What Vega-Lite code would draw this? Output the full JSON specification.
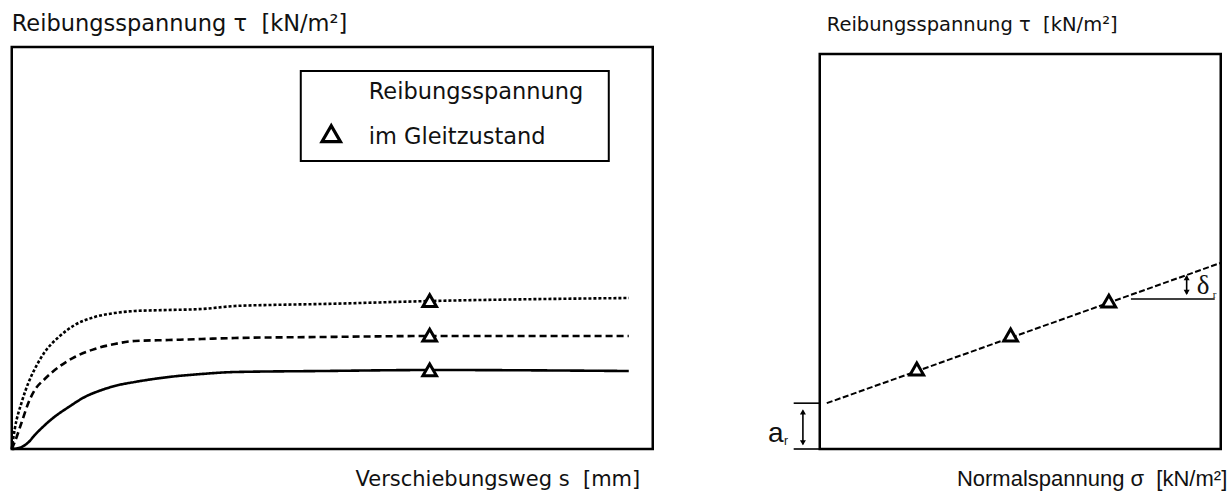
{
  "$schema": "https://vega.github.io/schema/vega-lite/v6.json",
  "background": "white",
  "padding": {"left": 4.75, "top": 11, "right": 0, "bottom": 0},
  "spacing": 167,
  "bounds": "flush",
  "config": {"view": {"stroke": null}, "font": "DejaVu Sans"},
  "datasets": {
    "leftCurves": [
      {"s": "solid", "x": 0, "y": 0}, {"s": "solid", "x": 0.78, "y": 0.12}, {"s": "solid", "x": 1.56, "y": 0.5}, {"s": "solid", "x": 2.65, "y": 1.74}, {"s": "solid", "x": 3.59, "y": 3.48}, {"s": "solid", "x": 4.68, "y": 5.22}, {"s": "solid", "x": 6.24, "y": 7.46}, {"s": "solid", "x": 8.89, "y": 10.45}, {"s": "solid", "x": 11.39, "y": 12.94}, {"s": "solid", "x": 14.04, "y": 14.68}, {"s": "solid", "x": 16.69, "y": 15.92}, {"s": "solid", "x": 19.19, "y": 16.67}, {"s": "solid", "x": 24.49, "y": 17.91}, {"s": "solid", "x": 29.64, "y": 18.66}, {"s": "solid", "x": 34.79, "y": 19.15}, {"s": "solid", "x": 48.36, "y": 19.4}, {"s": "solid", "x": 65.52, "y": 19.65}, {"s": "solid", "x": 96.26, "y": 19.4},
      {"s": "dashed", "x": 0, "y": 0}, {"s": "dashed", "x": 0.47, "y": 1.74}, {"s": "dashed", "x": 1.56, "y": 6.72}, {"s": "dashed", "x": 2.65, "y": 11.69}, {"s": "dashed", "x": 3.59, "y": 14.68}, {"s": "dashed", "x": 5.15, "y": 17.41}, {"s": "dashed", "x": 7.33, "y": 20.4}, {"s": "dashed", "x": 9.83, "y": 22.89}, {"s": "dashed", "x": 12.95, "y": 24.88}, {"s": "dashed", "x": 16.07, "y": 26.12}, {"s": "dashed", "x": 19.19, "y": 26.87}, {"s": "dashed", "x": 24.49, "y": 27.11}, {"s": "dashed", "x": 29.64, "y": 27.36}, {"s": "dashed", "x": 34.79, "y": 27.61}, {"s": "dashed", "x": 48.36, "y": 27.86}, {"s": "dashed", "x": 65.52, "y": 28.11}, {"s": "dashed", "x": 96.26, "y": 28.11},
      {"s": "dotted", "x": 0, "y": 0}, {"s": "dotted", "x": 0.47, "y": 4.98}, {"s": "dotted", "x": 1.56, "y": 11.69}, {"s": "dotted", "x": 2.65, "y": 16.67}, {"s": "dotted", "x": 3.59, "y": 19.9}, {"s": "dotted", "x": 5.15, "y": 24.13}, {"s": "dotted", "x": 7.33, "y": 27.86}, {"s": "dotted", "x": 9.83, "y": 30.85}, {"s": "dotted", "x": 12.95, "y": 32.84}, {"s": "dotted", "x": 16.07, "y": 33.83}, {"s": "dotted", "x": 19.19, "y": 34.33}, {"s": "dotted", "x": 24.49, "y": 34.58}, {"s": "dotted", "x": 29.64, "y": 34.83}, {"s": "dotted", "x": 34.79, "y": 35.57}, {"s": "dotted", "x": 40.09, "y": 35.82}, {"s": "dotted", "x": 48.36, "y": 36.07}, {"s": "dotted", "x": 65.52, "y": 36.82}, {"s": "dotted", "x": 96.26, "y": 37.56}
    ],
    "leftTri": [{"x": 65.2, "y": 36.9}, {"x": 65.2, "y": 28.3}, {"x": 65.2, "y": 19.7}],
    "legendBox": [{"x": 45.09, "x2": 93.14, "y": 71.64, "y2": 94.03}],
    "legendSym": [{"x": 49.84, "y": 78.43}],
    "legendText": [{"x": 55.69, "y": 87.06, "t": "Reibungsspannung"}, {"x": 55.69, "y": 75.95, "t": "im Gleitzustand"}],
    "rightBox": [{"x": 0, "x2": 100, "y": 0, "y2": 98.26}],
    "rightLine": [{"x": 1.75, "y": 11.4}, {"x": 100, "y": 46.3}],
    "rightTri": [{"x": 24.2, "y": 19.9}, {"x": 47.6, "y": 28.36}, {"x": 72.1, "y": 36.8}],
    "rightRules": [
      {"x": -6.5, "x2": 0, "y": 11.4, "y2": 11.4},
      {"x": -6.5, "x2": 0, "y": 0, "y2": 0},
      {"x": -4.2, "x2": -4.2, "y": 1.2, "y2": 9.5},
      {"x": 77.6, "x2": 98.5, "y": 37.3, "y2": 37.3},
      {"x": 91.5, "x2": 91.5, "y": 38.6, "y2": 43.0}
    ],
    "rightHeads": [
      {"x": -4.2, "y": 9.25, "shape": "triangle-up"},
      {"x": -4.2, "y": 1.55, "shape": "triangle-down"},
      {"x": 91.5, "y": 42.65, "shape": "triangle-up"},
      {"x": 91.5, "y": 38.95, "shape": "triangle-down"}
    ],
    "bigA": [{"x": -12.9, "y": 1.7, "t": "a"}],
    "subA": [{"x": -8.9, "y": 0.9, "t": "r"}],
    "bigD": [{"x": 94.0, "y": 38.6, "t": "δ"}],
    "subD": [{"x": 98.0, "y": 37.6, "t": "r"}]
  },
  "hconcat": [
    {
      "width": 641,
      "height": 402,
      "view": {"stroke": "black", "strokeWidth": 2.5},
      "title": {"text": "Reibungsspannung τ \u00a0[kN/m²]", "anchor": "start", "frame": "group", "fontSize": 22.5, "font": "DejaVu Sans", "fontWeight": "normal", "color": "#111111", "baseline": "alphabetic", "offset": -6},
      "encoding": {
        "x": {"field": "x", "type": "quantitative", "scale": {"domain": [0, 100], "nice": false, "zero": false},
          "axis": {"title": "Verschiebungsweg s \u00a0[mm]", "domain": false, "ticks": false, "labels": false, "grid": false, "titleX": 628, "titleY": 36, "titleAlign": "right", "titleAnchor": "end", "titleBaseline": "alphabetic", "titleFontSize": 21, "titleFont": "DejaVu Sans", "titleFontWeight": "normal", "titleColor": "#111111"}},
        "y": {"field": "y", "type": "quantitative", "scale": {"domain": [0, 100], "nice": false, "zero": false}, "axis": null}
      },
      "layer": [
        {
          "data": {"name": "leftCurves"},
          "mark": {"type": "line", "interpolate": "monotone", "strokeWidth": 2.6, "color": "black"},
          "encoding": {
            "strokeDash": {"field": "s", "type": "nominal", "scale": {"domain": ["solid", "dashed", "dotted"], "range": [[1, 0], [7, 4], [3, 2]]}, "legend": null}
          }
        },
        {
          "data": {"name": "leftTri"},
          "mark": {"type": "point", "shape": "triangle-up", "size": 185, "filled": true, "fill": "white", "stroke": "black", "strokeWidth": 3, "opacity": 1}
        },
        {
          "data": {"name": "legendBox"},
          "mark": {"type": "rect", "fill": "white", "stroke": "black", "strokeWidth": 2},
          "encoding": {"x2": {"field": "x2"}, "y2": {"field": "y2"}}
        },
        {
          "data": {"name": "legendSym"},
          "mark": {"type": "point", "shape": "triangle-up", "size": 340, "filled": true, "fill": "white", "stroke": "black", "strokeWidth": 3.2, "opacity": 1}
        },
        {
          "data": {"name": "legendText"},
          "mark": {"type": "text", "align": "left", "baseline": "alphabetic", "fontSize": 22.5, "font": "DejaVu Sans", "color": "#111111"},
          "encoding": {"text": {"field": "t"}}
        }
      ]
    },
    {
      "width": 401,
      "height": 402,
      "view": {"stroke": null},
      "title": {"text": "Reibungsspannung τ \u00a0[kN/m²]", "anchor": "start", "frame": "group", "fontSize": 19.5, "font": "DejaVu Sans", "fontWeight": "normal", "color": "#111111", "baseline": "alphabetic", "offset": -3, "dx": 7},
      "encoding": {
        "x": {"field": "x", "type": "quantitative", "scale": {"domain": [0, 100], "nice": false, "zero": false},
          "axis": {"title": "Normalspannung σ \u00a0[kN/m²]", "domain": false, "ticks": false, "labels": false, "grid": false, "titleX": 407, "titleY": 36, "titleAlign": "right", "titleAnchor": "end", "titleBaseline": "alphabetic", "titleFontSize": 22, "titleFont": "Liberation Sans", "titleFontWeight": "normal", "titleColor": "#111111"}},
        "y": {"field": "y", "type": "quantitative", "scale": {"domain": [0, 100], "nice": false, "zero": false}, "axis": null}
      },
      "layer": [
        {
          "data": {"name": "rightBox"},
          "mark": {"type": "rect", "fill": "white", "stroke": "black", "strokeWidth": 2.5},
          "encoding": {"x2": {"field": "x2"}, "y2": {"field": "y2"}}
        },
        {
          "data": {"name": "rightLine"},
          "mark": {"type": "line", "strokeWidth": 2, "color": "black", "strokeDash": [6, 2.5]}
        },
        {
          "data": {"name": "rightTri"},
          "mark": {"type": "point", "shape": "triangle-up", "size": 185, "filled": true, "fill": "white", "stroke": "black", "strokeWidth": 3, "opacity": 1}
        },
        {
          "data": {"name": "rightRules"},
          "mark": {"type": "rule", "color": "black", "strokeWidth": 1.6},
          "encoding": {"x2": {"field": "x2"}, "y2": {"field": "y2"}}
        },
        {
          "data": {"name": "rightHeads"},
          "mark": {"type": "point", "filled": true, "color": "black", "size": 36, "opacity": 1},
          "encoding": {"shape": {"field": "shape", "type": "nominal", "scale": null}}
        },
        {
          "data": {"name": "bigA"},
          "mark": {"type": "text", "align": "left", "baseline": "alphabetic", "fontSize": 28, "font": "Liberation Sans", "color": "#111111"},
          "encoding": {"text": {"field": "t"}}
        },
        {
          "data": {"name": "subA"},
          "mark": {"type": "text", "align": "left", "baseline": "alphabetic", "fontSize": 12, "font": "Liberation Sans", "color": "#111111"},
          "encoding": {"text": {"field": "t"}}
        },
        {
          "data": {"name": "bigD"},
          "mark": {"type": "text", "align": "left", "baseline": "alphabetic", "fontSize": 27, "font": "Liberation Serif", "color": "#111111"},
          "encoding": {"text": {"field": "t"}}
        },
        {
          "data": {"name": "subD"},
          "mark": {"type": "text", "align": "left", "baseline": "alphabetic", "fontSize": 11, "font": "Liberation Serif", "color": "#111111"},
          "encoding": {"text": {"field": "t"}}
        }
      ]
    }
  ]
}
